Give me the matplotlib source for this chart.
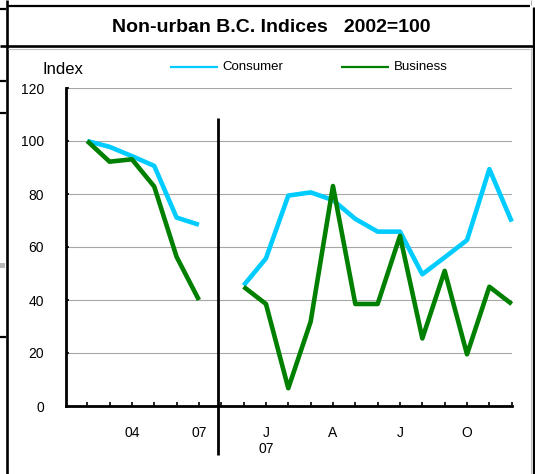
import matplotlib
matplotlib.use("Agg")
import matplotlib.pyplot as plt
from matplotlib.lines import Line2D
from matplotlib.patches import Rectangle
import numpy as np

plt.rcParams['font.family'] = ['Liberation Sans', 'DejaVu Sans']

W, H = 535, 474

# ---------------- data ----------------
title = "Non-urban B.C. Indices   2002=100"
y_label = "Index"
series_names = ["Consumer", "Business"]
series_colors = ["#00CCFF", "#008000"]

annual_periods = ["02", "03", "04", "05", "06", "07"]
consumer_annual = [100, 97.8, 94.3, 90.6, 71.1, 68.4]
business_annual = [100, 92.2, 93.1, 82.8, 56.3, 40.0]

monthly_periods = ["D06", "J07", "F07", "M07", "A07", "M07", "J07", "J07",
                   "A07", "S07", "O07", "N07", "D07"]
consumer_monthly = [45.5, 55.7, 79.4, 80.6, 77.7, 70.6, 65.8, 65.8, 49.7, 56.1, 62.6, 89.4, 69.6]
business_monthly = [45.0, 38.5, 6.7, 31.8, 83.0, 38.5, 38.5, 64.2, 25.5, 51.0, 19.5, 45.0, 38.5]

x_tick_labels = ["", "", "04", "", "", "07", "", "", "J\n07", "", "", "A",
                 "", "", "J", "", "", "O", "", ""]
y_ticks = [0, 20, 40, 60, 80, 100, 120]

# ---------------- figure ----------------
fig = plt.figure(figsize=(W / 100, H / 100), dpi=100)
fig.patch.set_facecolor("white")


def px_line(x0, y0, x1, y1, color="black", lw=2.0):
    fig.add_artist(Line2D([x0 / W, x1 / W], [1 - y0 / H, 1 - y1 / H],
                          transform=fig.transFigure, color=color, lw=lw,
                          solid_capstyle="butt"))


# frame / cell borders
px_line(6.5, 0, 6.5, 474, lw=1.9)
px_line(533.5, 7, 533.5, 474, lw=2.4)
px_line(530.5, 0, 530.5, 5, color="#b0b0b0", lw=0.8)
px_line(530.5, 48, 530.5, 474, color="#c0c0c0", lw=0.8)
px_line(7, 6, 530, 6, lw=1.6)
px_line(0, 46, 535, 46, lw=1.9)
px_line(8, 48.5, 530, 48.5, color="#c0c0c0", lw=0.8)
for yy in (9, 80.5, 113, 336.5):
    px_line(0, yy, 6, yy, lw=1.6)
fig.add_artist(Rectangle((0, 1 - 268 / H), 5 / W, 5 / H, transform=fig.transFigure,
                         facecolor="#b8b8b8", edgecolor="none"))

# title
fig.text(271 / W, 1 - 28 / H, title, fontsize=14, fontweight="bold",
         ha="center", va="center")

# axes
ax = fig.add_axes([66 / W, (H - 406) / H, 445.7 / W, 318 / H])
ax.set_xlim(0.05, 20)
ax.set_ylim(0, 120)

x_annual = np.arange(1, len(annual_periods) + 1)
x_monthly = np.arange(len(annual_periods) + 2, len(annual_periods) + 2 + len(monthly_periods))

lw_data = 3.3
ax.plot(x_annual, consumer_annual, color=series_colors[0], lw=lw_data, clip_on=False,
        solid_capstyle="butt", zorder=3)
ax.plot(x_annual, business_annual, color=series_colors[1], lw=lw_data, clip_on=False,
        solid_capstyle="butt", zorder=4)
ax.plot(x_monthly, consumer_monthly, color=series_colors[0], lw=lw_data, clip_on=False,
        solid_capstyle="butt", zorder=3)
ax.plot(x_monthly, business_monthly, color=series_colors[1], lw=lw_data, clip_on=False,
        solid_capstyle="butt", zorder=4)

# divider between annual and monthly sections
ax.vlines(6.86, -18.5, 108.7, color="black", lw=2.0, clip_on=False, zorder=5)

# spines
for s in ("top", "right"):
    ax.spines[s].set_visible(False)
for s in ("left", "bottom"):
    ax.spines[s].set_linewidth(2.0)
    ax.spines[s].set_color("black")
    ax.spines[s].set_zorder(6)

ax.set_xticks(np.arange(1, 21))
ax.set_xticklabels(x_tick_labels)
ax.set_yticks(y_ticks)
ax.set_yticklabels([str(v) for v in y_ticks])
ax.tick_params(axis="x", direction="in", length=2.6, width=1.2, pad=14.7,
               labelsize=10, color="black")
ax.tick_params(axis="y", direction="in", length=2.4, width=1.2, pad=15.8,
               labelsize=10, color="black")
for lab in ax.get_xticklabels():
    lab.set_linespacing(1.15)

ax.yaxis.grid(True, color="#a6a6a6", lw=0.8)
ax.set_axisbelow(True)

# y label
fig.text(43 / W, 1 - 70 / H, y_label, fontsize=12, ha="left", va="center")

# legend (manual)
leg_x = [(170, 218, 222.5), (341, 389, 394)]
for (x0, x1, tx), name, col in zip(leg_x, series_names, series_colors):
    px_line(x0, 67, x1, 67, color=col, lw=1.6)
    fig.text(tx / W, 1 - 67 / H, name, fontsize=9.5, ha="left", va="center")

fig.savefig("out.png", dpi=100)
